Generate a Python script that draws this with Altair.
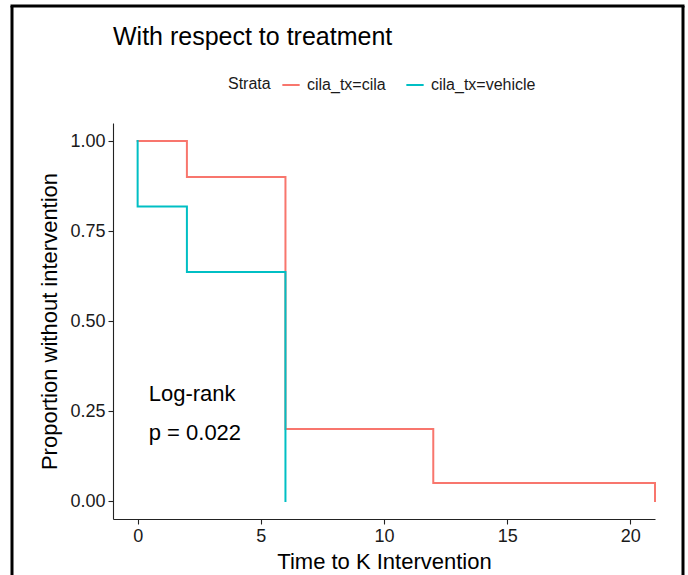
import altair as alt
import pandas as pd

# Kaplan-Meier step data
strata = ["cila_tx=cila", "cila_tx=vehicle"]
cila_time = [0, 2, 6, 12, 21]
cila_surv = [1.0, 0.9, 0.2, 0.05, 0.0]
veh_time = [0, 0, 2, 6]
veh_surv = [1.0, 0.818, 0.636, 0.0]
colors = ["#F8766D", "#00BFC4"]

x_ticks = [0, 5, 10, 15, 20]
y_ticks = [0.0, 0.25, 0.5, 0.75, 1.0]

ann_x = [0.45, 0.45]
ann_y = [0.296, 0.188]
ann_text = ["Log-rank", "p = 0.022"]

rows = []
for i, (t, s) in enumerate(zip(cila_time, cila_surv)):
    rows.append({"strata": strata[0], "time": t, "surv": s, "idx": i})
for i, (t, s) in enumerate(zip(veh_time, veh_surv)):
    rows.append({"strata": strata[1], "time": t, "surv": s, "idx": i})
df = pd.DataFrame(rows)

FONT = "Liberation Sans"
W, H = 542, 396

xscale = alt.Scale(domain=[-1.0, 21], nice=False, zero=False)
yscale = alt.Scale(domain=[-0.05, 1.05], nice=False, zero=False)

lines = alt.Chart(df).mark_line(interpolate="step-after", strokeWidth=2, strokeCap="square").encode(
    x=alt.X("time:Q", scale=xscale,
            axis=alt.Axis(values=x_ticks, title="Time to K Intervention", grid=False,
                          labelFontSize=18, titleFontSize=22, titlePadding=6,
                          labelPadding=3, titleFontWeight="normal", titleFont=FONT,
                          labelFont=FONT)),
    y=alt.Y("surv:Q", scale=yscale,
            axis=alt.Axis(values=y_ticks, format=".2f", title="Proportion without intervention",
                          grid=False, labelFontSize=18, titleFontSize=22, titlePadding=8,
                          labelPadding=3, titleFontWeight="normal", titleFont=FONT,
                          labelFont=FONT)),
    color=alt.Color("strata:N", scale=alt.Scale(domain=strata, range=colors),
                    legend=alt.Legend(title="Strata", orient="none", legendX=115, legendY=-48,
                                      direction="horizontal", titleOrient="left",
                                      symbolType="stroke", symbolStrokeWidth=2, symbolSize=300,
                                      labelFontSize=16, titleFontSize=16,
                                      titleFontWeight="normal", labelFont=FONT, titleFont=FONT,
                                      labelColor="#1a1a1a", titleColor="#1a1a1a",
                                      titlePadding=10, columnPadding=16, labelOffset=6)),
    order=alt.Order("idx:Q"),
    detail="strata:N",
)

ann_df = pd.DataFrame({"x": ann_x, "y": ann_y, "text": ann_text})
ann = alt.Chart(ann_df).mark_text(align="left", baseline="middle", fontSize=22,
                                  font=FONT, color="black").encode(
    x=alt.X("x:Q", scale=xscale), y=alt.Y("y:Q", scale=yscale), text="text:N")

frame_df = pd.DataFrame({"k": [0]})
left = alt.Chart(frame_df).mark_rule(color="black", strokeWidth=3).encode(
    x=alt.value(-101), y=alt.value(-117), y2=alt.value(460))
top = alt.Chart(frame_df).mark_rule(color="black", strokeWidth=3).encode(
    x=alt.value(-102.5), x2=alt.value(571.5), y=alt.value(-117))
right = alt.Chart(frame_df).mark_rule(color="black", strokeWidth=3).encode(
    x=alt.value(570), y=alt.value(-117), y2=alt.value(460))

chart = alt.layer(lines, ann, left, top, right).properties(
    width=W, height=H,
    background="white",
    title=alt.Title("With respect to treatment", anchor="start", frame="group",
                    fontSize=25, font=FONT, fontWeight="normal", color="black",
                    baseline="alphabetic", offset=-65),
    autosize=alt.AutoSizeParams(type="none"),
    padding={"left": 113, "top": 123, "right": 33, "bottom": 56},
).configure_view(stroke="transparent", strokeWidth=0).configure_axis(
    labelFont=FONT, titleFont=FONT, titleFontWeight="normal",
    labelColor="#1a1a1a", titleColor="black",
    domainColor="#222222", tickColor="#222222", domainWidth=1.1, tickWidth=1.1, tickSize=5,
)

chart.save("out.html", embed_options={"renderer": "svg", "actions": False})
